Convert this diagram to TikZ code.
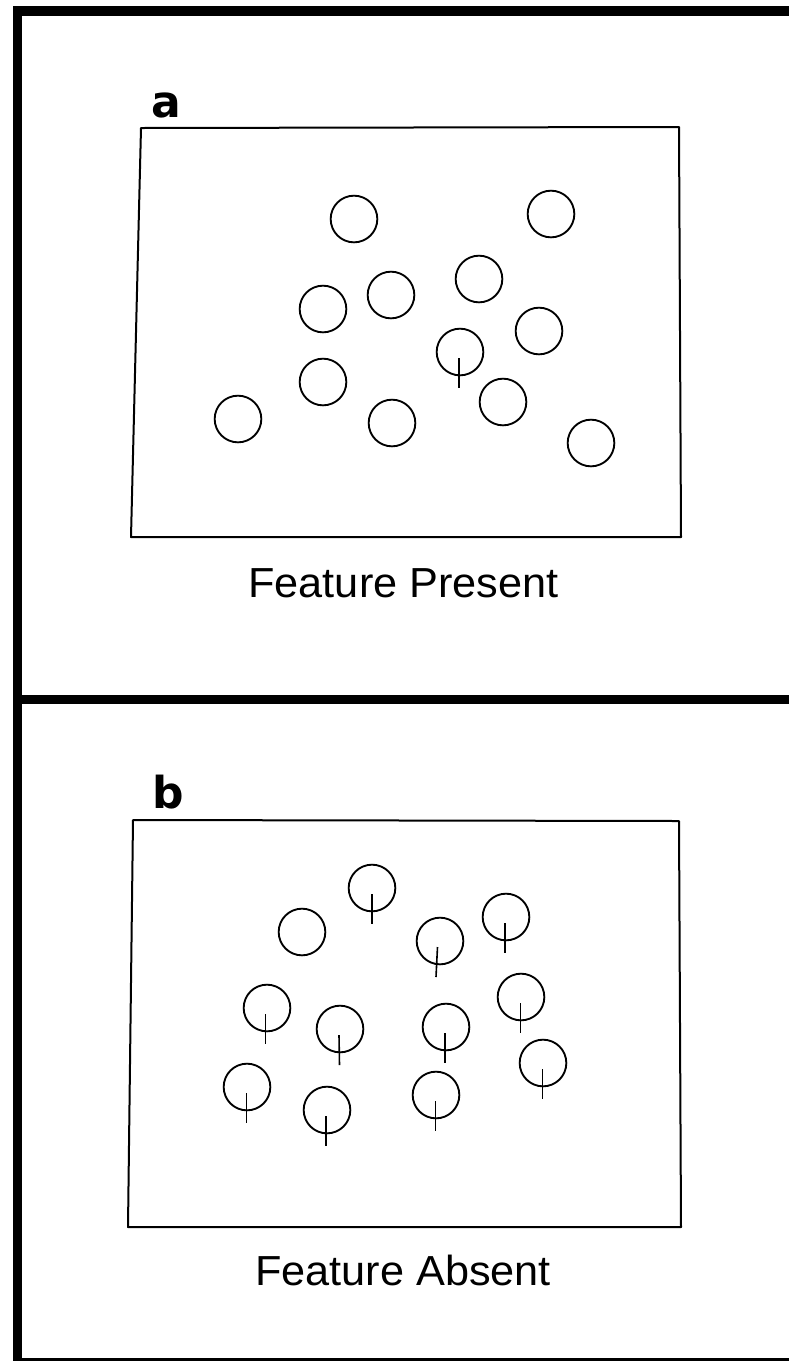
\documentclass[tikz,border=0pt]{standalone}
\usepackage{fontspec}
\setmainfont{Liberation Sans}
\newfontfamily\letterfont{DejaVu Sans}
\begin{document}
\begin{tikzpicture}[x=0.75pt,y=-0.75pt,
  frameline/.style={line width=7.1pt, line join=miter},
  boxline/.style={line width=1.5pt, line join=round},
  dot/.style={circle, draw, line width=1.4pt, minimum size=35pt, inner sep=0pt},
  stemline/.style={line width=1.2pt},
  caption/.style={font=\fontsize{31.5}{36}\selectfont, xscale=1.03, anchor=base, inner sep=0pt},
  panelletter/.style={font=\letterfont\bfseries\fontsize{33}{36}\selectfont, anchor=base west, inner sep=0pt}]
\newcommand\stemon[3]{\draw[stemline] ([shift={(#2,6)}]#1.center) -- ([shift={(#3,36)}]#1.center);}

\useasboundingbox (0,0) rectangle (789,1361);
\fill[white] (0,0) rectangle (789,1361);

% outer frame and divider
\draw[frameline] (800,11) -- (17.5,11) -- (17.5,1370);
\draw[frameline] (17.5,699.5) -- (800,699.5);
\draw[line width=2.2pt] (13,1359.8) -- (800,1359.8);

% ---------- panel a ----------
\node[panelletter] (la) at (151,117) {a};
\draw[boxline] (141,128) -- (679,127) -- (681,537) -- (131,537) -- cycle;
\node[dot] (a1)  at (354,219) {};
\node[dot] (a2)  at (551,214) {};
\node[dot] (a3)  at (323,309) {};
\node[dot] (a4)  at (391,295) {};
\node[dot] (a5)  at (479,279) {};
\node[dot] (a6)  at (539,331) {};
\node[dot] (a7)  at (460,352) {};
\node[dot] (a8)  at (323,382) {};
\node[dot] (a9)  at (503,402) {};
\node[dot] (a10) at (238,419) {};
\node[dot] (a11) at (392,423) {};
\node[dot] (a12) at (591,443) {};
\stemon{a7}{-1}{-1}
\node[caption] (ca) at (403.5,597) {Feature Present};

% ---------- panel b ----------
\node[panelletter] (lb) at (152,808) {b};
\draw[boxline] (133,820) -- (679,821) -- (681,1227) -- (128,1227) -- cycle;
\node[dot] (b1)  at (372,888) {};
\node[dot] (b2)  at (302,932) {};
\node[dot] (b3)  at (440,941) {};
\node[dot] (b4)  at (506,917) {};
\node[dot] (b5)  at (267,1008) {};
\node[dot] (b6)  at (340,1029) {};
\node[dot] (b7)  at (446,1027) {};
\node[dot] (b8)  at (521,997) {};
\node[dot] (b9)  at (247,1087) {};
\node[dot] (b10) at (327,1110) {};
\node[dot] (b11) at (436,1095) {};
\node[dot] (b12) at (543,1063) {};
\stemon{b1}{0}{0}
\stemon{b3}{-2.5}{-4}
\stemon{b4}{-1}{-1}
\stemon{b5}{-1.5}{-1.5}
\stemon{b6}{-1}{-0.5}
\stemon{b7}{-1}{-1}
\stemon{b8}{-0.5}{-0.5}
\stemon{b9}{-0.5}{-0.5}
\stemon{b10}{-1}{-1}
\stemon{b11}{-0.5}{-0.5}
\stemon{b12}{-0.5}{-0.5}
\node[caption] (cb) at (403,1285) {Feature Absent};
\end{tikzpicture}
\end{document}
